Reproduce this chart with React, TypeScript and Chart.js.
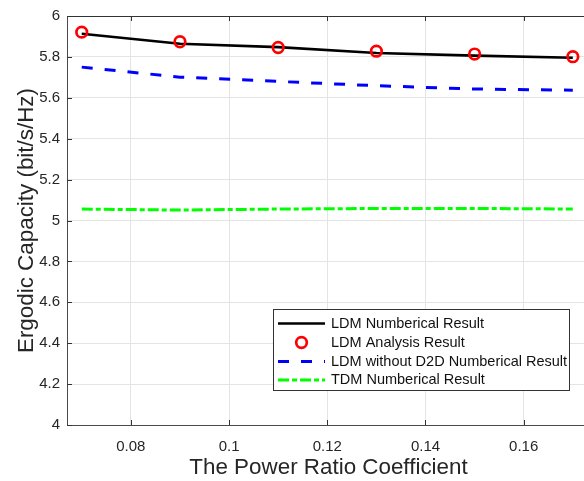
import React, { useEffect, useRef } from "react";
import { Chart, registerables } from "chart.js";
Chart.register(...registerables);

const xValues = [0.07, 0.09, 0.11, 0.13, 0.15, 0.17];
const ldmNumerical = [5.913, 5.864, 5.848, 5.819, 5.806, 5.796];
const ldmAnalysis = [5.921, 5.874, 5.846, 5.828, 5.814, 5.801];
const ldmNoD2D = [5.75, 5.701, 5.68, 5.659, 5.643, 5.637];
const tdmNumerical = [5.056, 5.051, 5.056, 5.059, 5.059, 5.056];
const xTicks = [0.08, 0.1, 0.12, 0.14, 0.16];
const yTicks = [4, 4.2, 4.4, 4.6, 4.8, 5, 5.2, 5.4, 5.6, 5.8, 6];
const seriesLabels = [
  "LDM Numberical Result",
  "LDM Analysis Result",
  "LDM without D2D Numberical Result",
  "TDM Numberical Result",
];
const xTitle = "The Power Ratio Coefficient";
const yTitle = "Ergodic Capacity (bit/s/Hz)";

const FONT = "'Liberation Sans', Arial, Helvetica, sans-serif";
const BLUE_DASH = [11, 12];
const GREEN_DASH = [11, 3, 5, 3];

const toPts = (ys: number[]) => xValues.map((x, i) => ({ x, y: ys[i] }));
const fmt = (v: number) => String(Number(v.toFixed(3)));

const framePlugin = {
  id: "frame",
  afterDraw(chart: any) {
    const { ctx, chartArea, scales } = chart;
    const { left, right, top, bottom } = chartArea;
    ctx.save();
    ctx.strokeStyle = "#333333";
    ctx.lineWidth = 1;
    ctx.setLineDash([]);
    ctx.beginPath();
    ctx.moveTo(left, top + 0.5);
    ctx.lineTo(right, top + 0.5);
    ctx.stroke();
    ctx.beginPath();
    yTicks.forEach((v) => {
      const y = Math.round(scales.y.getPixelForValue(v)) + 0.5;
      ctx.moveTo(left, y);
      ctx.lineTo(left + 5, y);
    });
    xTicks.forEach((v) => {
      const x = Math.round(scales.x.getPixelForValue(v)) + 0.5;
      ctx.moveTo(x, bottom);
      ctx.lineTo(x, bottom - 5);
      ctx.moveTo(x, top);
      ctx.lineTo(x, top + 5);
    });
    ctx.stroke();

    // legend
    const bx = 273.5, by = 309.5, bw = 296, bh = 81;
    ctx.fillStyle = "#ffffff";
    ctx.fillRect(bx, by, bw, bh);
    ctx.strokeStyle = "#333333";
    ctx.strokeRect(bx, by, bw, bh);
    ctx.font = `14.5px ${FONT}`;
    ctx.textBaseline = "middle";
    ctx.textAlign = "left";
    const rows = [323.5, 342.5, 361.5, 380];
    const x0 = 278, x1 = 325;
    chart.data.datasets.forEach((ds: any, i: number) => {
      const y = rows[i];
      if (ds.showLine === false) {
        ctx.beginPath();
        ctx.setLineDash([]);
        ctx.strokeStyle = ds.pointBorderColor;
        ctx.lineWidth = ds.pointBorderWidth;
        ctx.arc((x0 + x1) / 2, y, ds.pointRadius, 0, Math.PI * 2);
        ctx.stroke();
      } else {
        ctx.beginPath();
        ctx.setLineDash(ds.borderDash || []);
        ctx.strokeStyle = ds.borderColor;
        ctx.lineWidth = ds.borderWidth;
        ctx.moveTo(x0, y);
        ctx.lineTo(x1, y);
        ctx.stroke();
      }
      ctx.setLineDash([]);
      ctx.fillStyle = "#111111";
      ctx.fillText(ds.label, 331, y);
    });
    ctx.restore();
  },
};

export default function App() {
  const ref = useRef<HTMLCanvasElement>(null);
  useEffect(() => {
    if (!ref.current) return;
    const chart = new Chart(ref.current, {
      type: "line",
      data: {
        datasets: [
          {
            label: seriesLabels[0],
            data: toPts(ldmNumerical),
            borderColor: "#000000",
            borderWidth: 2.6,
            pointRadius: 0,
            tension: 0,
            order: 1,
          },
          {
            label: seriesLabels[1],
            data: toPts(ldmAnalysis),
            showLine: false,
            pointRadius: 5.3,
            pointBorderWidth: 2.7,
            pointBorderColor: "#ff0000",
            pointBackgroundColor: "rgba(0,0,0,0)",
            borderColor: "#ff0000",
            order: 0,
          },
          {
            label: seriesLabels[2],
            data: toPts(ldmNoD2D),
            borderColor: "#0000ff",
            borderWidth: 3,
            borderDash: BLUE_DASH,
            pointRadius: 0,
            tension: 0,
            order: 2,
          },
          {
            label: seriesLabels[3],
            data: toPts(tdmNumerical),
            borderColor: "#00ff00",
            borderWidth: 3,
            borderDash: GREEN_DASH,
            pointRadius: 0,
            tension: 0,
            order: 3,
          },
        ] as any,
      },
      options: {
        animation: false,
        responsive: false,
        devicePixelRatio: 1,
        layout: { padding: { top: 15, right: 10, left: 0, bottom: 0 } },
        plugins: { legend: { display: false }, tooltip: { enabled: false } },
        scales: {
          x: {
            type: "linear",
            min: 0.067,
            max: 0.1735,
            afterBuildTicks: (s: any) => {
              s.ticks = xTicks.map((v) => ({ value: v }));
            },
            afterFit: (s: any) => {
              s.height = 56;
            },
            ticks: {
              callback: (v: any) => fmt(Number(v)),
              font: { family: FONT, size: 15 },
              color: "#262626",
              padding: 12.5,
              maxRotation: 0,
            },
            grid: { color: "#e4e4e4", lineWidth: 1, drawTicks: false },
            border: { display: true, color: "#4a4a4a", width: 1 },
            title: {
              display: true,
              text: xTitle,
              font: { family: FONT, size: 22.4 },
              color: "#262626",
              padding: { top: 0, bottom: 0 },
            },
          },
          y: {
            type: "linear",
            min: 4,
            max: 6,
            afterBuildTicks: (s: any) => {
              s.ticks = yTicks.map((v) => ({ value: v }));
            },
            afterFit: (s: any) => {
              s.width = 67;
            },
            ticks: {
              callback: (v: any) => fmt(Number(v)),
              font: { family: FONT, size: 15 },
              color: "#262626",
              padding: 7,
            },
            grid: { color: "#e4e4e4", lineWidth: 1, drawTicks: false },
            border: { display: true, color: "#4a4a4a", width: 1 },
            title: {
              display: true,
              text: yTitle,
              font: { family: FONT, size: 22.4 },
              color: "#262626",
              padding: { top: 13, bottom: 0 },
            },
          },
        },
      },
      plugins: [framePlugin],
    });
    return () => chart.destroy();
  }, []);
  return (
    <div
      style={{
        position: "fixed",
        left: 0,
        top: 0,
        width: 584,
        height: 481,
        overflow: "hidden",
        background: "#ffffff",
      }}
    >
      <canvas ref={ref} width={600} height={481} style={{ width: 600, height: 481, display: "block" }} />
    </div>
  );
}
